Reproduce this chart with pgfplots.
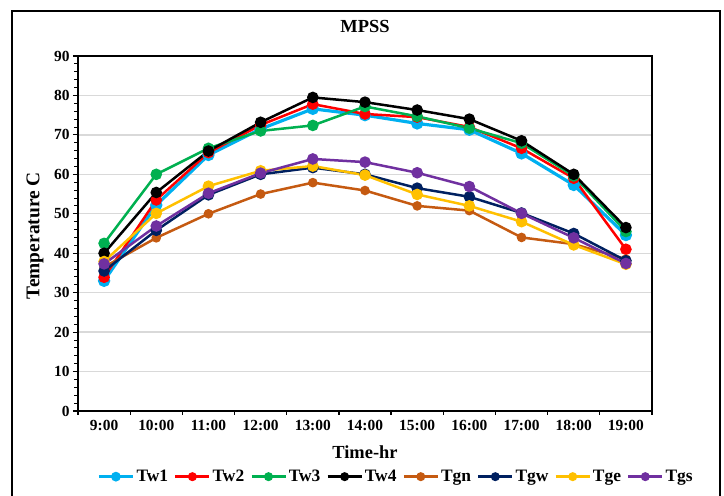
\documentclass[border=0pt]{standalone}
\usepackage{pgfplots}
\pgfplotsset{compat=1.18}
\usepackage{fontspec}
\setmainfont{Liberation Serif}
\definecolor{cTwa}{HTML}{00B0F0}
\definecolor{cTwb}{HTML}{FF0000}
\definecolor{cTwc}{HTML}{00B050}
\definecolor{cTwd}{HTML}{000000}
\definecolor{cTgn}{HTML}{C55A11}
\definecolor{cTgw}{HTML}{002060}
\definecolor{cTge}{HTML}{FFC000}
\definecolor{cTgs}{HTML}{7030A0}
\definecolor{gridc}{HTML}{D9D9D9}
\begin{document}
\begin{tikzpicture}
\useasboundingbox (-78bp,-85bp) rectangle (646bp,411bp);
\draw[line width=1.5bp] (-66bp,-90bp) -- (-66bp,400bp) -- (642bp,400bp) -- (642bp,-90bp);
\begin{axis}[
  at={(0,0)}, anchor=south west,
  scale only axis, width=574bp, height=355bp,
  xmin=-0.5, xmax=10.5, ymin=0, ymax=90,
  xtick={0,...,10},
  xticklabels={9:00,10:00,11:00,12:00,13:00,14:00,15:00,16:00,17:00,18:00,19:00},
  minor xtick={-0.5,0.5,...,10.5},
  ytick={0,10,...,90},
  minor y tick num=4,
  xtick pos=bottom, ytick pos=left,
  tick align=outside,
  x tick style={draw=none},
  minor x tick style={draw=black, line width=1.2bp},
  major tick length=5bp,
  minor tick length=3.5bp,
  y tick style={black, line width=1.2bp},
  minor y tick style={black, line width=1bp},
  ymajorgrids,
  major grid style={gridc, line width=1.3bp},
  axis line style={black, line width=2bp},
  tick label style={font=\bfseries\fontsize{15.5}{17}\selectfont},
  xticklabel style={yshift=-1bp},
  /pgf/number format/assume math mode=true,
  title={\bfseries MPSS},
  title style={font=\fontsize{18.5}{20}\selectfont, at={(axis description cs:0.5,1.065)}, anchor=center},
  xlabel={\bfseries Time-hr},
  xlabel style={font=\fontsize{18.5}{20}\selectfont, at={(axis description cs:0.5,-0.115)}, anchor=center},
  ylabel={\bfseries Temperature C},
  ylabel style={font=\fontsize{19.5}{21}\selectfont, at={(axis description cs:-0.075,0.494)}, anchor=center, rotate=0},
  legend columns=8,
  legend style={draw=none, fill=none, at={(axis description cs:0.554,-0.185)}, anchor=center,
    font=\bfseries\fontsize{17.5}{19}\selectfont, inner sep=0pt,
    /tikz/every even column/.append style={column sep=4bp}},
  legend image code/.code={\draw[mark repeat=2,mark phase=2, mark size=3.2bp] plot coordinates {(0bp,0bp)(17bp,0bp)(34bp,0bp)};},
  every axis plot/.append style={mark=*, line width=2.5bp},
  clip=false,
]
\addplot[cTwa, line width=3.2bp, mark size=4.5bp] coordinates {(0,33) (1,52.2) (2,64.9) (3,71.5) (4,76.6) (5,75) (6,72.9) (7,71.3) (8,65.3) (9,57.3) (10,44.6)};
\addlegendentry{Tw1}
\addplot[cTwb, mark size=4.5bp] coordinates {(0,33.9) (1,53.5) (2,65.5) (3,72.5) (4,77.8) (5,75.3) (6,74.5) (7,72) (8,66.6) (9,59) (10,41)};
\addlegendentry{Tw2}
\addplot[cTwc, mark size=4.5bp] coordinates {(0,42.5) (1,60) (2,66.6) (3,71) (4,72.4) (5,77.2) (6,74.7) (7,71.7) (8,67.9) (9,59.6) (10,45.5)};
\addlegendentry{Tw3}
\addplot[cTwd, mark size=4.5bp] coordinates {(0,40) (1,55.4) (2,65.9) (3,73.2) (4,79.5) (5,78.3) (6,76.3) (7,74) (8,68.5) (9,60) (10,46.5)};
\addlegendentry{Tw4}
\addplot[cTgn, mark size=3.5bp] coordinates {(0,36.5) (1,43.9) (2,50) (3,55) (4,57.9) (5,55.9) (6,52) (7,50.8) (8,44) (9,42.3) (10,38.5)};
\addlegendentry{Tgn}
\addplot[cTgw, mark size=4.5bp] coordinates {(0,35.5) (1,45.8) (2,54.8) (3,60) (4,61.7) (5,60) (6,56.5) (7,54.3) (8,50.2) (9,45) (10,38.1)};
\addlegendentry{Tgw}
\addplot[cTge, mark size=4.5bp] coordinates {(0,37.9) (1,50.1) (2,57) (3,60.9) (4,62.1) (5,59.8) (6,54.9) (7,52) (8,48) (9,42.1) (10,37.2)};
\addlegendentry{Tge}
\addplot[cTgs, mark size=4.5bp] coordinates {(0,37.3) (1,46.9) (2,55.2) (3,60.3) (4,63.9) (5,63.1) (6,60.4) (7,56.9) (8,50.1) (9,43.9) (10,37.4)};
\addlegendentry{Tgs}
\end{axis}
\draw[black, line width=2bp] (0,355bp) -- (574bp,355bp) -- (574bp,0);
\end{tikzpicture}
\end{document}
